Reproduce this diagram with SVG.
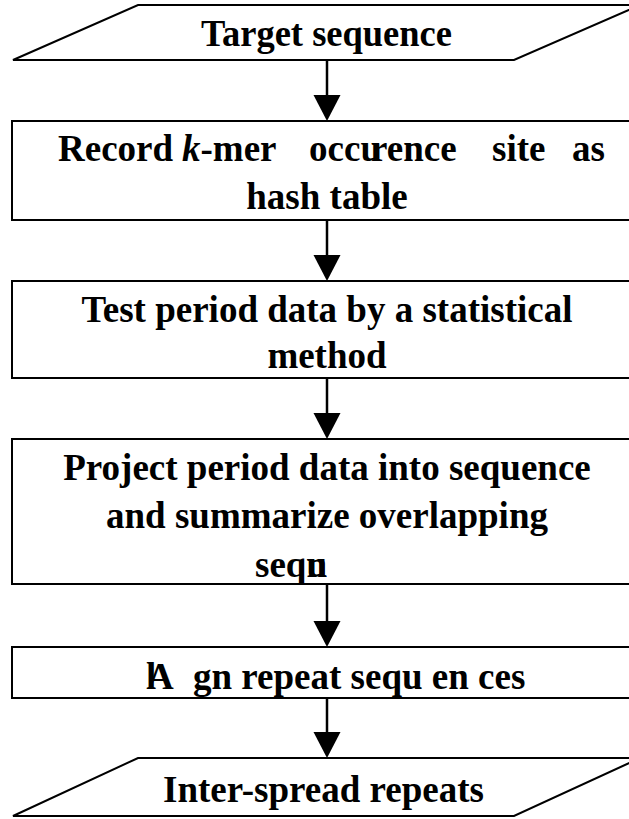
<svg xmlns="http://www.w3.org/2000/svg" width="629" height="819" viewBox="0 0 629 819">
  <style>
    .shape { fill: #ffffff; stroke: #000000; stroke-width: 2; }
    .t { font-family: "Liberation Serif", "Times New Roman", serif; font-weight: bold; font-size: 37px; fill: #000000; }
    .c { text-anchor: middle; }
    .conn { stroke: #000000; stroke-width: 2.5; fill: none; }
  </style>
  <defs>
    <marker id="ah" markerWidth="27" markerHeight="28" refX="20" refY="14" orient="auto" markerUnits="userSpaceOnUse">
      <path d="M0,0.5 L26,14 L0,27.5 Z" fill="#000000"/>
    </marker>
  </defs>
  <rect width="629" height="819" fill="#ffffff"/>

  <g id="connectors">
    <line class="conn" x1="327" y1="60" x2="327" y2="115" marker-end="url(#ah)"/>
    <line class="conn" x1="327" y1="220" x2="327" y2="275" marker-end="url(#ah)"/>
    <line class="conn" x1="327" y1="378" x2="327" y2="433" marker-end="url(#ah)"/>
    <line class="conn" x1="327" y1="584" x2="327" y2="641" marker-end="url(#ah)"/>
    <line class="conn" x1="327" y1="698" x2="327" y2="752" marker-end="url(#ah)"/>
  </g>

  <g id="node-target">
    <polygon class="shape" points="138,5 640,5 514,60 13,60"/>
    <text class="t" x="201" y="46" textLength="251" lengthAdjust="spacingAndGlyphs">Target sequence</text>
  </g>

  <g id="node-record">
    <rect class="shape" x="12" y="121" width="630" height="99"/>
    <text class="t" y="161"><tspan x="58">Record</tspan><tspan x="182" font-style="italic">k</tspan><tspan>-mer</tspan><tspan x="309" dx="0 0 0 0 -10">occurence</tspan><tspan x="492">site</tspan><tspan x="572">as</tspan></text>
    <text class="t c" x="327" y="209">hash table</text>
  </g>

  <g id="node-test">
    <rect class="shape" x="12" y="281" width="630" height="97"/>
    <text class="t c" x="327" y="322">Test period data by a statistical</text>
    <text class="t c" x="327" y="368">method</text>
  </g>

  <g id="node-project">
    <rect class="shape" x="12" y="439" width="630" height="145"/>
    <text class="t c" x="327" y="480">Project period data into sequence</text>
    <text class="t c" x="327" y="528">and summarize overlapping</text>
    <text class="t" x="255" y="577" dx="0 0 0 0 -20.6">sequn</text>
  </g>

  <g id="node-align">
    <rect class="shape" x="12" y="647" width="630" height="51"/>
    <text class="t" y="689" x="146 147 174 193">lA gn repeat sequ en ces</text>
  </g>

  <g id="node-output">
    <polygon class="shape" points="138,758 640,758 514,816 13,816"/>
    <text class="t" x="163" y="802">Inter-spread repeats</text>
  </g>
</svg>
